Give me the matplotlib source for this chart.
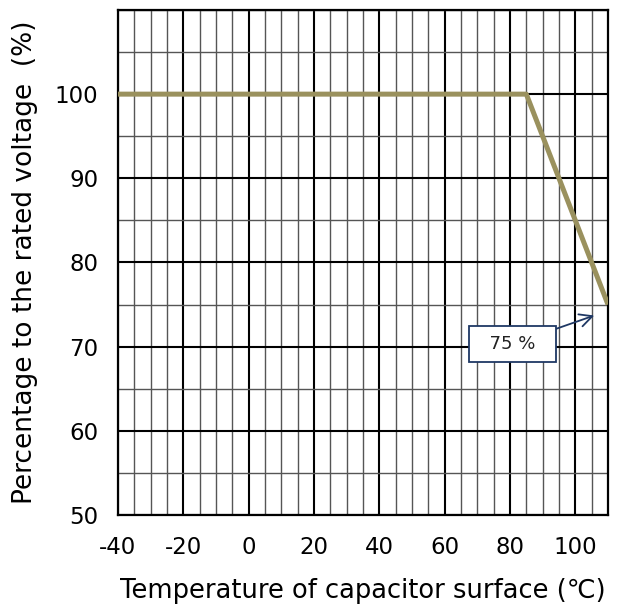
import numpy as np
import matplotlib.pyplot as plt
from matplotlib.ticker import MultipleLocator

plt.rcParams["font.family"] = "DejaVu Sans"
plt.rcParams["axes.unicode_minus"] = False

# data
temp = [-40, 85, 110]
percent = [100, 100, 75]
x_ticks = [-40, -20, 0, 20, 40, 60, 80, 100]
y_ticks = [50, 60, 70, 80, 90, 100]
note_text = "  75 %  "
note_point = (105.8, 73.7)
note_pos = (80.7, 70.3)

fig = plt.figure(figsize=(6.32, 6.08), dpi=100)
ax = fig.add_axes([0.1867, 0.153, 0.7753, 0.8306])

ax.plot(temp, percent, color="#9a915e", linewidth=3.6, solid_capstyle="butt", zorder=5)

ax.set_xlim(-40, 110)
ax.set_ylim(50, 110)
ax.set_xticks(x_ticks)
ax.set_yticks(y_ticks)
ax.xaxis.set_minor_locator(MultipleLocator(5))
ax.yaxis.set_minor_locator(MultipleLocator(5))

ax.grid(True, which="major", color="black", linewidth=1.5)
ax.grid(True, which="minor", color="#555555", linewidth=1.0)
ax.set_axisbelow(True)
for s in ax.spines.values():
    s.set_linewidth(1.6)
    s.set_color("black")

ax.tick_params(which="both", length=0)
ax.tick_params(axis="x", pad=15, labelsize=16.5)
ax.tick_params(axis="y", pad=14, labelsize=16.5)

ax.set_xlabel("Temperature of capacitor surface (\u2103)", fontsize=18.5, labelpad=14)
ax.set_ylabel("Percentage to the rated voltage  (%)", fontsize=19, labelpad=12)

ax.annotate(note_text, xy=note_point, xytext=note_pos, fontsize=13,
            ha="center", va="center", color="#222222", zorder=6,
            bbox=dict(boxstyle="square,pad=0.5", fc="white", ec="#1f3864", lw=1.3),
            arrowprops=dict(arrowstyle="->,head_length=0.7,head_width=0.35",
                            color="#1f3864", lw=1.3, shrinkA=0, shrinkB=0))

fig.savefig("out.png", dpi=100)
